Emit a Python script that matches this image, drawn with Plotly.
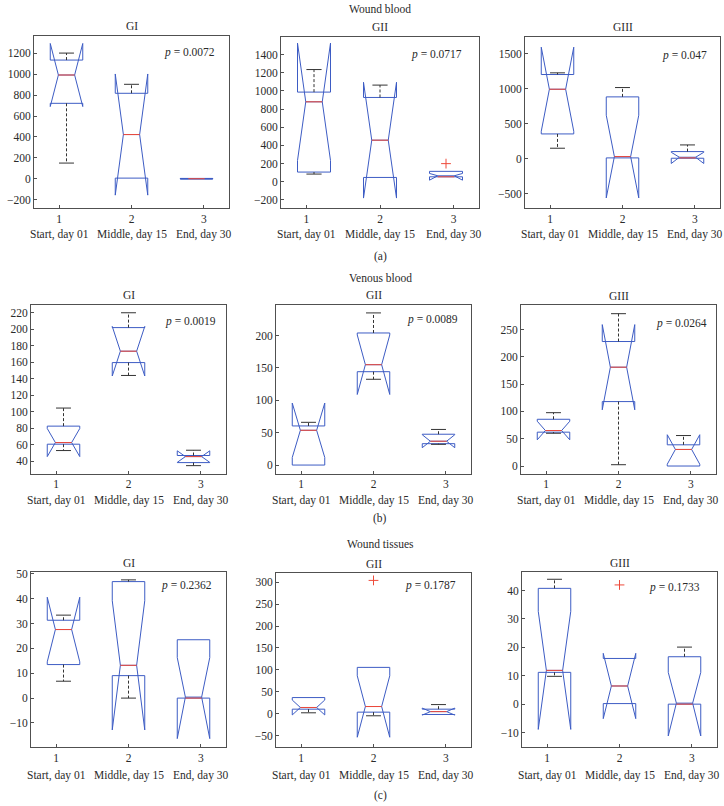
import plotly.graph_objects as go

# ---------------- data ----------------
categories = ["Start, day 01", "Middle, day 15", "End, day 30"]
tick_labels = ["1", "2", "3"]
positions = [1, 2, 3]
sections = ["Wound blood", "Venous blood", "Wound tissues"]
section_tags = ["(a)", "(b)", "(c)"]
groups = ["GI", "GII", "GIII"]

p_values = ["0.0072", "0.0717", "0.047",
            "0.0019", "0.0089", "0.0264",
            "0.2362", "0.1787", "0.1733"]

q1_vals = [
    [722, 6, -3], [107, 48, 55], [352, 10, 5],
    [60.7, 159.6, 38.4], [0, 144.2, 33], [62, 118, 0],
    [13.5, 9.05, 0], [10.6, 3.8, -1.5], [11.2, 0.2, 0],
]
median_vals = [
    [993, 423, 0], [880, 458, 55], [990, 29, 10],
    [62.7, 173.4, 45.7], [53.7, 155, 36.8], [65, 181, 30.3],
    [27.6, 13.2, 0], [14.4, 16.6, 5], [11.9, 6.4, 0],
]
q3_vals = [
    [1136, 818, 3], [987, 928, 115], [1200, 881, 100],
    [82.6, 202, 47], [60.4, 204, 47.6], [85.6, 228, 38.8],
    [31.35, 46.9, 23.5], [37, 105.8, 10.6], [40.8, 16.1, 16.7],
]
notch_vals = [
    [302, 580, 0.01], [646, 637, 37], [600, 590, 80],
    [17, 30, 7], [42, 46, 10], [17, 78, 27],
    [13, 26, 16.3], [17, 70, 8], [20.8, 11.5, 11.2],
]
whisker_low = [
    [150, None, None], [85, None, None], [148, None, None],
    [53, 144, 34.7], [None, 132.5, 32], [60, 2.4, None],
    [6.8, 0, None], [2.3, -4.5, None], [9.8, None, None],
]
whisker_high = [
    [1203, 904, None], [1235, 1064, None], [1224, 1014, 195],
    [104.5, 220, 53.4], [66, 235, 55], [97.7, 279, 55.8],
    [33.4, 47.6, None], [None, None, 21], [44, None, 20.1],
]
outliers = [
    [[], [], []], [[], [], [200]], [[], [], []],
    [[], [], []], [[], [], []], [[], [], []],
    [[], [], []], [[], [304], []], [[], [42], []],
]
y_ranges = [
    [-280, 1368], [-288, 1595], [-705, 1738],
    [25, 230], [-13.3, 248], [-14, 294],
    [-19.8, 50.7], [-76.3, 320.5], [-15.2, 46.5],
]
y_tickvals = [
    list(range(-200, 1201, 200)), list(range(-200, 1401, 200)), list(range(-500, 1501, 500)),
    list(range(40, 221, 20)), list(range(0, 201, 50)), list(range(0, 251, 50)),
    list(range(-10, 51, 10)), list(range(-50, 301, 50)), list(range(-10, 41, 10)),
]
x_tick_pos = [0.885, 2.0, 3.115]

# ---------------- layout constants ----------------
W, H = 724, 806
frames = [  # left, right, top, bottom (px)
    (34, 229, 32, 205), (281, 479, 33, 205), (525, 720, 33, 205),
    (31, 226, 302, 472), (276, 471, 302, 472), (521, 716, 303, 472),
    (31, 226, 571, 747), (276, 471, 572, 747), (522, 717, 571, 747),
]
p_offsets = [  # right gap, top gap (px)
    (12, 17), (15, 18), (11, 19),
    (8, 17), (11, 15), (7, 18),
    (12, 13), (13, 12), (15, 15),
]
section_y = [5, 275, 543]
tag_y = [254, 517, 795]
cat_y = [232, 499, 775]

BLUE = "#3d5cc4"
RED = "#ee4a3a"
DARK = "#333333"
FRAME = "#505050"
FONT = "Liberation Serif, Times New Roman, serif"
FS = 11.5
TXT = "#2a2a2a"

fig = go.Figure()
annotations = []

def pyy(p):
    return 1 - p / H

for k in range(9):
    row, col = divmod(k, 3)
    sfx = "" if k == 0 else str(k + 1)
    xa, ya = "x" + sfx, "y" + sfx
    l, r, t, b = frames[k]

    fig.add_trace(go.Box(
        x=positions, q1=q1_vals[k], median=median_vals[k], q3=q3_vals[k],
        lowerfence=q1_vals[k], upperfence=q3_vals[k], notchspan=notch_vals[k],
        notched=True, notchwidth=0.25, width=0.5, whiskerwidth=0,
        boxpoints="outliers", fillcolor="rgba(0,0,0,0)",
        line=dict(color=BLUE, width=1), xaxis=xa, yaxis=ya,
        showlegend=False, hoverinfo="skip",
    ))

    # whiskers (dashed) and caps
    wx, wy, cx, cy = [], [], [], []
    for j, pos in enumerate(positions):
        hi = whisker_high[k][j]
        lo = whisker_low[k][j]
        if hi is not None:
            wx += [pos, pos, None]; wy += [q3_vals[k][j], hi, None]
            cx += [pos - 0.115, pos + 0.115, None]; cy += [hi, hi, None]
        if lo is not None:
            wx += [pos, pos, None]; wy += [q1_vals[k][j], lo, None]
            cx += [pos - 0.115, pos + 0.115, None]; cy += [lo, lo, None]
    fig.add_trace(go.Scatter(x=wx, y=wy, mode="lines", xaxis=xa, yaxis=ya,
                             line=dict(color=DARK, width=1, dash="3px,2px"),
                             showlegend=False, hoverinfo="skip"))
    fig.add_trace(go.Scatter(x=cx, y=cy, mode="lines", xaxis=xa, yaxis=ya,
                             line=dict(color=DARK, width=1),
                             showlegend=False, hoverinfo="skip"))

    # red medians
    mx, my = [], []
    for j, pos in enumerate(positions):
        m = median_vals[k][j]
        mx += [pos - 0.125, pos + 0.125, None]; my += [m, m, None]
    fig.add_trace(go.Scatter(x=mx, y=my, mode="lines", xaxis=xa, yaxis=ya,
                             line=dict(color=RED, width=1),
                             showlegend=False, hoverinfo="skip"))

    # outliers
    ox, oy = [], []
    for j, pos in enumerate(positions):
        for v in outliers[k][j]:
            ox.append(pos); oy.append(v)
    if ox:
        fig.add_trace(go.Scatter(x=ox, y=oy, mode="markers", xaxis=xa, yaxis=ya,
                                 marker=dict(symbol="cross-thin", size=7,
                                             line=dict(color=RED, width=1)),
                                 showlegend=False, hoverinfo="skip"))

    axis_common = dict(showline=True, mirror=True, linecolor=FRAME, linewidth=1,
                       showgrid=False, zeroline=False, ticks="inside", ticklen=3,
                       tickcolor=FRAME, tickfont=dict(family=FONT, size=FS, color=TXT))
    fig.layout["xaxis" + sfx] = dict(
        domain=[l / W, r / W], range=[0.5, 3.5], anchor=ya,
        tickmode="array", tickvals=x_tick_pos, ticktext=tick_labels, **axis_common)
    fig.layout["yaxis" + sfx] = dict(
        domain=[1 - b / H, 1 - t / H], range=y_ranges[k], anchor=xa,
        tickmode="array", tickvals=y_tickvals[k], **axis_common)

    # panel title
    annotations.append(dict(text=groups[col], x=(l + r) / 2 / W, y=pyy(t - 9.5),
                            xref="paper", yref="paper", showarrow=False,
                            xanchor="center", yanchor="middle",
                            font=dict(family=FONT, size=FS, color=TXT)))
    # p-value
    rg, tg = p_offsets[k]
    annotations.append(dict(text="<i>p</i> = " + p_values[k],
                            x=1 - rg / (r - l), y=1 - tg / (b - t),
                            xref=xa + " domain", yref=ya + " domain", showarrow=False,
                            xanchor="right", yanchor="middle",
                            font=dict(family=FONT, size=FS, color=TXT)))
    # category labels
    for j, cname in enumerate(categories):
        annotations.append(dict(text=cname, x=x_tick_pos[j], y=pyy(cat_y[row]),
                                xref=xa, yref="paper", showarrow=False,
                                xanchor="center", yanchor="middle",
                                font=dict(family=FONT, size=FS, color=TXT)))

for i in range(3):
    annotations.append(dict(text=sections[i], x=380 / W, y=pyy(section_y[i]),
                            xref="paper", yref="paper", showarrow=False,
                            xanchor="center", yanchor="middle",
                            font=dict(family=FONT, size=FS, color=TXT)))
    annotations.append(dict(text=section_tags[i], x=380 / W, y=pyy(tag_y[i]),
                            xref="paper", yref="paper", showarrow=False,
                            xanchor="center", yanchor="middle",
                            font=dict(family=FONT, size=FS, color=TXT)))

fig.update_layout(width=W, height=H, margin=dict(l=0, r=0, t=0, b=0),
                  paper_bgcolor="white", plot_bgcolor="white",
                  annotations=annotations, showlegend=False)

fig.write_html("out.html")
